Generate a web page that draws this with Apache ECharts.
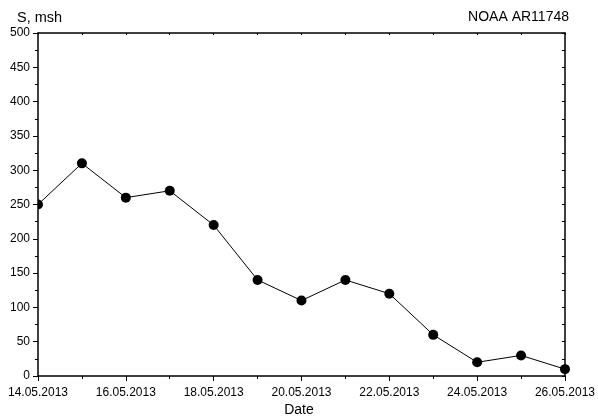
<!DOCTYPE html>
<html>
<head>
<meta charset="utf-8">
<script src="https://cdn.jsdelivr.net/npm/echarts@6/dist/echarts.min.js"></script>
<style>
html,body{margin:0;padding:0;background:#fff;}
#chart{width:598px;height:416px;}
</style>
</head>
<body>
<div id="chart"></div>
<script>
const dates = ['14.05.2013','15.05.2013','16.05.2013','17.05.2013','18.05.2013','19.05.2013','20.05.2013','21.05.2013','22.05.2013','23.05.2013','24.05.2013','25.05.2013','26.05.2013'];
const areaValues = [250, 310, 260, 270, 220, 140, 110, 140, 120, 60, 20, 30, 10];
const yTickValues = [0, 50, 100, 150, 200, 250, 300, 350, 400, 450, 500];
const yLabel = 'S, msh';
const xLabel = 'Date';
const regionLabel = 'NOAA AR11748';

const FONT = 'Liberation Sans, Arial, sans-serif';
const W = 598, H = 416;
const G = {left: 38, right: 28, top: 33, bottom: 40};
const chart = echarts.init(document.getElementById('chart'), null, {renderer: 'canvas'});
const seriesData = areaValues.map((v, i) => [i, v]);

const option = {
  animation: false,
  backgroundColor: '#fff',
  grid: {left: G.left, right: G.right, top: G.top, bottom: G.bottom, containLabel: false},
  xAxis: [
    {
      type: 'value', position: 'bottom', min: 0, max: dates.length - 1, interval: 2,
      z: 10,
      axisLine: {show: true, onZero: false, lineStyle: {color: '#000', width: 1.5}},
      axisTick: {show: true, inside: false, length: 5, lineStyle: {color: '#000', width: 1}},
      minorTick: {show: true, splitNumber: 2, length: 3, lineStyle: {color: '#000', width: 1}},
      splitLine: {show: false},
      axisLabel: {show: true, margin: 11, color: '#000', fontSize: 12, fontFamily: FONT,
        formatter: v => dates[v] || ''}
    },
    {
      type: 'value', position: 'top', min: 0, max: dates.length - 1, interval: 1,
      z: 10,
      axisLine: {show: true, onZero: false, lineStyle: {color: '#000', width: 1.5}},
      axisTick: {show: true, inside: true, length: 2, lineStyle: {color: '#000', width: 1}},
      splitLine: {show: false},
      axisLabel: {show: false}
    }
  ],
  yAxis: [
    {
      type: 'value', position: 'left', min: yTickValues[0], max: yTickValues[yTickValues.length - 1],
      interval: yTickValues[1] - yTickValues[0],
      z: 10,
      axisLine: {show: true, onZero: false, lineStyle: {color: '#000', width: 1.5}},
      axisTick: {show: true, inside: false, length: 5, lineStyle: {color: '#000', width: 1}},
      minorTick: {show: true, splitNumber: 2, length: 3, lineStyle: {color: '#000', width: 1}},
      splitLine: {show: false},
      axisLabel: {show: true, margin: 8, color: '#000', fontSize: 12, fontFamily: FONT}
    },
    {
      type: 'value', position: 'right', min: yTickValues[0], max: yTickValues[yTickValues.length - 1],
      interval: (yTickValues[1] - yTickValues[0]) / 2,
      z: 10,
      axisLine: {show: true, onZero: false, lineStyle: {color: '#000', width: 1.5}},
      axisTick: {show: true, inside: true, length: 3, lineStyle: {color: '#000', width: 1}},
      splitLine: {show: false},
      axisLabel: {show: false}
    }
  ],
  graphic: [
    // white masks outside the plotting rectangle so edge markers are clipped like the original
    {type: 'rect', z: 5, silent: true,
      shape: {x: 0, y: 0, width: G.left, height: H}, style: {fill: '#fff'}},
    {type: 'rect', z: 5, silent: true,
      shape: {x: W - G.right, y: 0, width: G.right, height: H}, style: {fill: '#fff'}},
    {type: 'text', left: 17, top: 10, z: 20,
      style: {text: yLabel, fill: '#000', fontSize: 14.5, fontFamily: FONT}},
    {type: 'text', right: 29, top: 10, z: 20,
      style: {text: regionLabel, fill: '#000', fontSize: 14, fontFamily: FONT}},
    {type: 'text', left: 'center', top: 403, z: 20,
      style: {text: xLabel, fill: '#000', fontSize: 14, fontFamily: FONT}}
  ],
  series: [{
    type: 'line',
    data: seriesData,
    xAxisIndex: 0, yAxisIndex: 0,
    symbol: 'circle', symbolSize: 10,
    showSymbol: true,
    clip: true,
    lineStyle: {color: '#000', width: 1},
    itemStyle: {color: '#000'},
    z: 2
  }]
};
chart.setOption(option);
</script>
</body>
</html>
